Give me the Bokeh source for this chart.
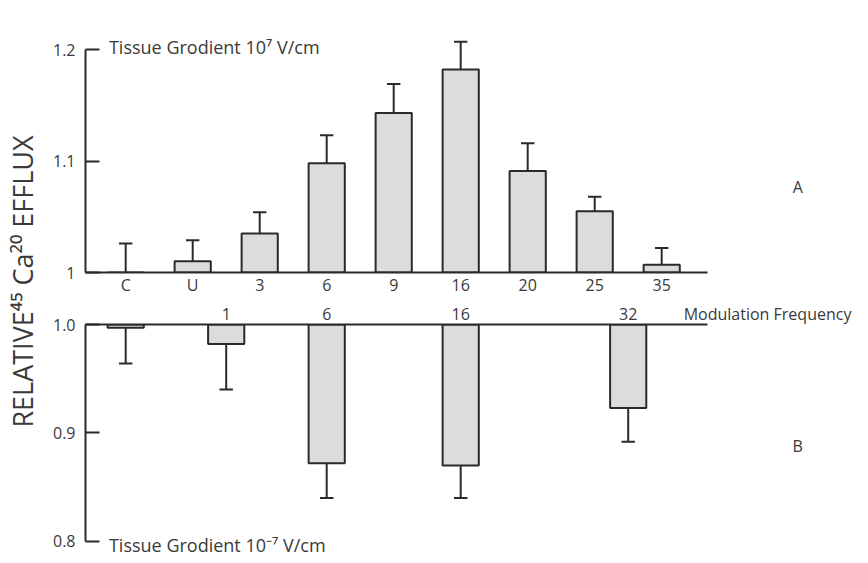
import math
from bokeh.plotting import figure
from bokeh.layouts import row, column
from bokeh.models import FixedTicker, Range1d, Label, LinearAxis
from bokeh.embed import file_html
from bokeh.resources import INLINE

# ---------------- data ----------------
top_categories = ["C", "U", "3", "6", "9", "16", "20", "25", "35"]
top_means = [1.000, 1.010, 1.035, 1.098, 1.143, 1.182, 1.091, 1.055, 1.007]
top_errors = [0.026, 0.019, 0.019, 0.025, 0.026, 0.025, 0.025, 0.013, 0.015]

bottom_categories = ["C", "1", "6", "16", "32"]
bottom_means = [0.997, 0.982, 0.872, 0.870, 0.923]
bottom_errors = [0.033, 0.042, 0.032, 0.030, 0.031]

top_yticks = [1.0, 1.1, 1.2]
top_ytick_labels = ["1", "1.1", "1.2"]
bottom_yticks = [0.8, 0.9, 1.0]
bottom_ytick_labels = ["0.8", "0.9", "1.0"]
x_axis_title = "Modulation Frequency"

# ---------------- layout (slot positions on the shared frequency axis) ----------------
BOTTOM_SLOT = {"C": 0.0, "1": 1.5, "6": 3.0, "16": 5.0, "32": 7.5}
LABELLED_BOTTOM = ["1", "6", "16", "32"]
TITLE_SLOT = 9.58

FONT = "Open Sans"
INK = "#2a2a2a"
TXT = "#3a3a3a"
BAR_FILL = "#dcdcdc"
BAR_W = 0.54
CAP = 0.1
FIG_W = 822
X_RANGE = (-0.6, -0.6 + (FIG_W - 42) / 67)
X_BOUNDS = (-0.6, 8.69)
TOP_H = 299
BOT_H = 262


def style(p):
    p.xgrid.visible = False
    p.ygrid.visible = False
    p.outline_line_color = None
    p.background_fill_color = "white"
    p.border_fill_color = "white"
    for ax in p.axis:
        ax.axis_line_color = INK
        ax.axis_line_width = 2
        ax.major_tick_line_color = INK
        ax.major_tick_line_width = 2
        ax.minor_tick_line_color = None
        ax.major_label_text_font = FONT
        ax.major_label_text_font_size = "16px"
        ax.major_label_text_color = TXT
    for ax in p.yaxis:
        ax.major_tick_in = 14
        ax.major_tick_out = 0
        ax.major_label_standoff = 10
    for ax in p.xaxis:
        ax.major_tick_in = 0
        ax.major_tick_out = 0
        ax.bounds = X_BOUNDS


def draw_bars(p, xs, means, errs, base, upward):
    if upward:
        p.vbar(x=xs, top=means, bottom=base, width=BAR_W, fill_color=BAR_FILL,
               line_color=INK, line_width=2)
        ends = [m + e for m, e in zip(means, errs)]
    else:
        p.vbar(x=xs, top=base, bottom=means, width=BAR_W, fill_color=BAR_FILL,
               line_color=INK, line_width=2)
        ends = [m - e for m, e in zip(means, errs)]
    p.segment(x0=xs, y0=means, x1=xs, y1=ends, line_color=INK, line_width=2)
    p.segment(x0=[x - CAP for x in xs], y0=ends, x1=[x + CAP for x in xs], y1=ends,
              line_color=INK, line_width=2)


def text_label(p, x, y, text, size="18px", align="left"):
    p.add_layout(Label(x=x, y=y, text=text, text_font=FONT, text_font_size=size,
                       text_color=TXT, text_align=align, text_baseline="middle"))


# ---------------- top panel (A) ----------------
top = figure(width=FIG_W, height=TOP_H, x_range=Range1d(*X_RANGE),
             y_range=Range1d(1.0, 1.0 + 242 / 1115),
             output_backend="svg", toolbar_location=None,
             min_border_left=42, min_border_right=0, min_border_top=30, min_border_bottom=27)
style(top)
top.xaxis.ticker = FixedTicker(ticks=list(range(len(top_categories))))
top.xaxis.major_label_overrides = {i: c for i, c in enumerate(top_categories)}
top.xaxis.major_label_standoff = 1
top.yaxis.ticker = FixedTicker(ticks=top_yticks)
top.yaxis.major_label_overrides = dict(zip(top_yticks, top_ytick_labels))
top.yaxis.bounds = (1.0, 1.2)

draw_bars(top, list(range(len(top_categories))), top_means, top_errors, 1.0, True)
text_label(top, -0.25, 1.2018, "Tissue Grodient 10\u2077 V/cm")
text_label(top, 10.03, 1.077, "A", size="16px", align="center")

# ---------------- bottom panel (B) ----------------
bot = figure(width=FIG_W, height=BOT_H, x_range=Range1d(*X_RANGE),
             y_range=Range1d(1.0 - 228 / 1080, 1.0),
             output_backend="svg", toolbar_location=None, x_axis_location="above",
             min_border_left=42, min_border_right=0, min_border_top=25, min_border_bottom=8)
style(bot)
# baseline of the lower panel (no ticks of its own)
bot.xaxis.ticker = FixedTicker(ticks=[])
bot.xaxis.major_label_standoff = 0
bot.yaxis.ticker = FixedTicker(ticks=bottom_yticks)
bot.yaxis.major_label_overrides = dict(zip(bottom_yticks, bottom_ytick_labels))
bot.yaxis.bounds = (0.8, 1.0)

# frequency labels of the lower panel + the axis title on the same line
freq_axis = LinearAxis(
    ticker=FixedTicker(ticks=[BOTTOM_SLOT[c] for c in LABELLED_BOTTOM] + [TITLE_SLOT]),
    major_label_overrides={**{BOTTOM_SLOT[c]: c for c in LABELLED_BOTTOM}, TITLE_SLOT: x_axis_title},
    axis_line_color=None, major_tick_line_color=None, minor_tick_line_color=None,
    major_tick_in=0, major_tick_out=0, major_label_standoff=0,
    major_label_text_font=FONT, major_label_text_font_size="16px", major_label_text_color=TXT)
bot.add_layout(freq_axis, "above")

draw_bars(bot, [BOTTOM_SLOT[c] for c in bottom_categories], bottom_means, bottom_errors, 1.0, False)
text_label(bot, -0.25, 0.797, "Tissue Grodient 10\u207b\u2077 V/cm")
text_label(bot, 10.03, 0.888, "B", size="16px", align="center")

# ---------------- shared y label ----------------
TOTAL_H = TOP_H + BOT_H
lab = figure(width=43, height=TOTAL_H, x_range=Range1d(0, 43), y_range=Range1d(0, TOTAL_H),
             output_backend="svg", toolbar_location=None, x_axis_type=None, y_axis_type=None,
             min_border=0)
lab.xgrid.visible = False
lab.ygrid.visible = False
lab.outline_line_color = None
lab.add_layout(Label(x=22, y=TOTAL_H - 281, text="RELATIVE\u2074\u2075 Ca\u00b2\u2070 EFFLUX",
                     angle=math.pi / 2, text_font=FONT, text_font_size="27px", text_color=TXT,
                     text_align="center", text_baseline="middle"))

layout = row(lab, column(top, bot))
open("out.html", "w").write(file_html(layout, INLINE, "chart"))
